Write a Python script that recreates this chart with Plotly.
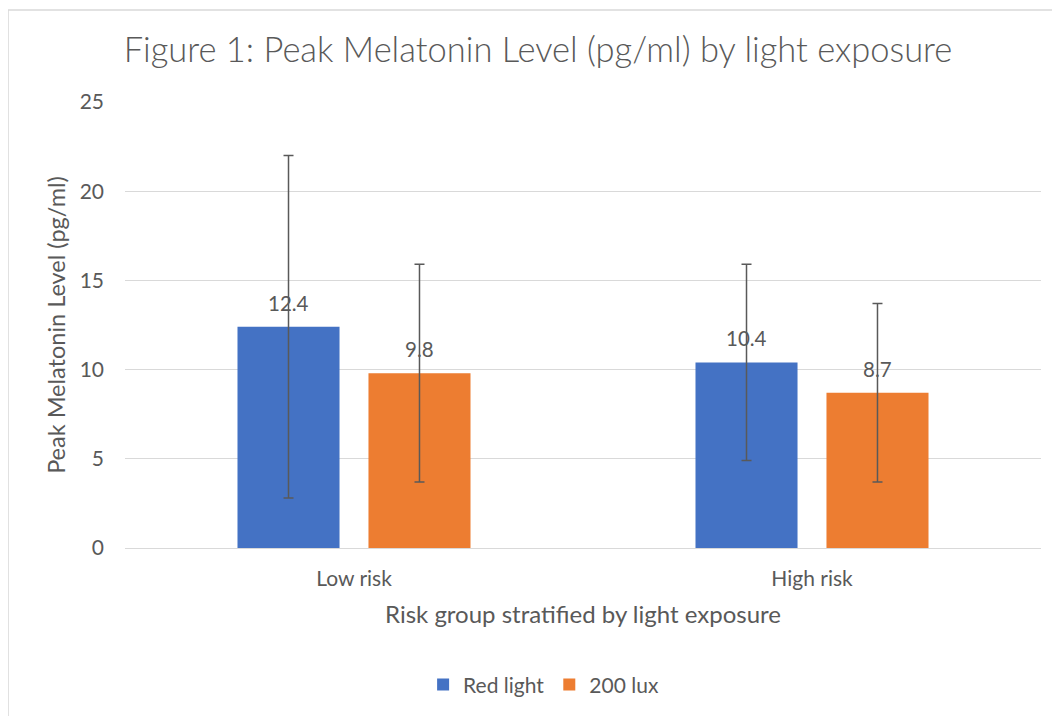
import plotly.graph_objects as go

# values
categories = ["Low risk", "High risk"]
red_light = [12.4, 10.4]
lux_200 = [9.8, 8.7]
red_light_err = [9.6, 5.5]
lux_200_err = [6.1, 5.0]

series_names = ["Red light", "200 lux"]
y_ticks = [0, 5, 10, 15, 20, 25]

TEXT = "#595959"
GRID = "#D9D9D9"
FONT = "Lato, 'Open Sans', sans-serif"
BARGAP = 0.428
BARGROUPGAP = 0.221


def add_bar(fig, name, values, errors, color):
    fig.add_trace(go.Bar(
        x=categories,
        y=values,
        name=name,
        marker=dict(color=color, line=dict(width=0)),
        error_y=dict(type="data", array=errors, color=TEXT, thickness=1.5, width=5),
        cliponaxis=False,
    ))


fig = go.Figure()
add_bar(fig, series_names[0], red_light, red_light_err, "#4472C4")
add_bar(fig, series_names[1], lux_200, lux_200_err, "#ED7D31")

# data labels above each bar (bar centres follow from the group gap)
half = (1 - BARGAP) / 4
for i, cat in enumerate(categories):
    for off, vals in ((-half, red_light), (half, lux_200)):
        fig.add_annotation(
            x=i + off, y=vals[i], xref="x", yref="y",
            text=f"{vals[i]}", showarrow=False,
            yanchor="bottom", yshift=10,
            font=dict(size=20.5, color=TEXT, family=FONT),
        )

# the page body adds an 8px offset, so margins are shifted by that amount
fig.update_layout(
    width=1060,
    height=716,
    margin=dict(l=117, r=27, t=94, b=176, autoexpand=False),
    paper_bgcolor="white",
    plot_bgcolor="white",
    font=dict(family=FONT, color=TEXT, size=21),
    barmode="group",
    bargap=BARGAP,
    bargroupgap=BARGROUPGAP,
    title=dict(
        text="Figure 1: Peak Melatonin Level (pg/ml) by light exposure",
        font=dict(size=34.5, color=TEXT, family=FONT, weight=300),
        x=0.5, xanchor="center", xref="container",
        y=0.9413, yanchor="middle", yref="container",
    ),
    legend=dict(
        orientation="h",
        x=0.457, xanchor="center",
        y=-0.307, yanchor="middle",
        font=dict(size=21, color=TEXT),
        itemwidth=30,
    ),
    showlegend=True,
)

fig.update_yaxes(
    range=[0, 25],
    tickvals=y_ticks,
    showgrid=True,
    gridcolor=GRID,
    gridwidth=1.3,
    zeroline=False,
    showline=False,
    ticks="",
    automargin=False,
    ticklabelstandoff=20,
    tickfont=dict(size=21, color=TEXT),
    title=dict(text="Peak Melatonin Level (pg/ml)", font=dict(size=23.5, color=TEXT), standoff=7),
)

fig.update_xaxes(
    showline=True,
    linecolor=GRID,
    linewidth=1.3,
    ticks="",
    automargin=False,
    ticklabelstandoff=12,
    tickfont=dict(size=21, color=TEXT),
    title=dict(text="Risk group stratified by light exposure", font=dict(size=24, color=TEXT), standoff=16),
)

# light chart-area border, cropped at the right and bottom like the screenshot
fig.add_shape(
    type="rect", xref="paper", yref="paper",
    x0=-0.1277, x1=1.03, y0=-0.42, y1=1.206,
    line=dict(color=GRID, width=1.5), fillcolor="rgba(0,0,0,0)", layer="below",
)

fig.write_html("out.html")
